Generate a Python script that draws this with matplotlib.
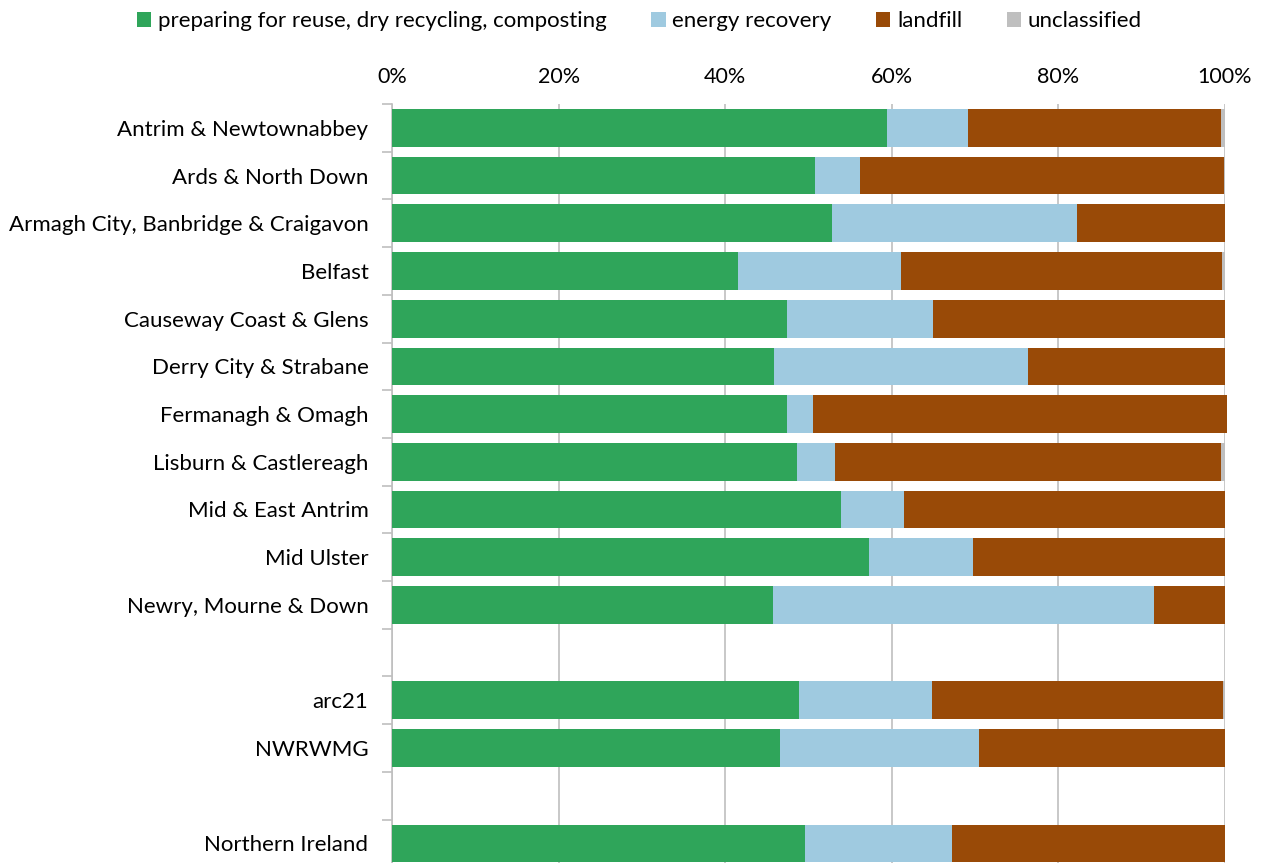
import matplotlib
matplotlib.use('Agg')
import matplotlib.pyplot as plt
import numpy as np

plt.rcParams['font.family'] = ['Lato', 'DejaVu Sans']

# categories (blank strings are spacer rows)
labels = ['Antrim & Newtownabbey', 'Ards & North Down', 'Armagh City, Banbridge & Craigavon',
          'Belfast', 'Causeway Coast & Glens', 'Derry City & Strabane', 'Fermanagh & Omagh',
          'Lisburn & Castlereagh', 'Mid & East Antrim', 'Mid Ulster', 'Newry, Mourne & Down',
          '', 'arc21', 'NWRWMG', '', 'Northern Ireland']

# % of household waste by destination
recycling = [59.4, 50.8, 52.8, 41.5, 47.4, 45.9, 47.4, 48.6, 53.9, 57.3, 45.7, np.nan, 48.9, 46.6, np.nan, 49.6]
energy    = [9.7, 5.4, 29.4, 19.6, 17.5, 30.5, 3.1, 4.6, 7.6, 12.4, 45.8, np.nan, 15.9, 23.9, np.nan, 17.6]
landfill  = [30.4, 43.7, 17.8, 38.5, 35.1, 23.6, 49.8, 46.3, 38.5, 30.3, 8.5, np.nan, 34.9, 29.5, np.nan, 32.8]
unclass   = [0.5, 0.1, 0.0, 0.4, 0.0, 0.0, 0.0, 0.5, 0.0, 0.0, 0.0, np.nan, 0.3, 0.0, np.nan, 0.0]

series = [('preparing for reuse, dry recycling, composting', recycling, '#2FA55A'),
          ('energy recovery', energy, '#9FCAE0'),
          ('landfill', landfill, '#994A07'),
          ('unclassified', unclass, '#BFBFBF')]

fig = plt.figure(figsize=(12.61, 8.63), dpi=100)
ax = fig.add_axes([392 / 1261, 0.0, 833 / 1261, 1 - 104 / 863])

y = np.arange(len(labels))
left = np.zeros(len(labels))
for name, vals, col in series:
    v = np.nan_to_num(np.array(vals, dtype=float))
    ax.barh(y, v, left=left, height=0.79, color=col, label=name, clip_on=False, zorder=3)
    left += v

ax.set_xlim(0, 100)
ax.set_ylim(15.41, -0.5)
ax.xaxis.tick_top()
ax.set_xticks(np.arange(0, 101, 20))
ax.set_xticklabels(['%d%%' % t for t in range(0, 101, 20)], fontsize=15.5)
ax.tick_params(axis='x', length=0, pad=12)
ax.grid(axis='x', color='#BFBFBF', lw=1.2, zorder=0)

ax.set_yticks(y)
ax.set_yticklabels(labels, fontsize=16)
ax.set_yticks(np.arange(-0.5, 15.5, 1), minor=True)
ax.tick_params(axis='y', which='major', length=0, pad=17)
ax.tick_params(axis='y', which='minor', length=7, color='#BFBFBF', width=1.2)

for s in ['top', 'right', 'bottom']:
    ax.spines[s].set_visible(False)
ax.spines['left'].set_color('#BFBFBF')
ax.spines['left'].set_linewidth(1.2)

fig.legend(loc='upper center', bbox_to_anchor=(0.507, 1.01), ncol=4, frameon=False, fontsize=16,
           handlelength=0.65, handleheight=0.65, handletextpad=0.3, columnspacing=2.0)

plt.savefig('out.png', dpi=100)
